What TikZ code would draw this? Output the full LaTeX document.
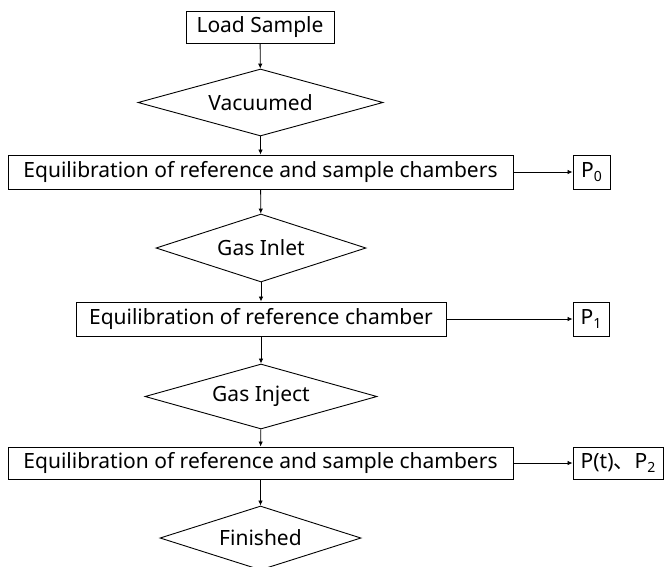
\documentclass[tikz,border=0pt]{standalone}
\usepackage{fontspec}
\setmainfont{Noto Sans}
\newfontfamily\cjk{Noto Sans CJK SC}
\usetikzlibrary{shapes.geometric,arrows.meta}
\newcommand{\subs}[1]{\raisebox{-0.3ex}{\fontsize{14}{14}\selectfont #1}}
\begin{document}
\begin{tikzpicture}[x=1pt,y=-1pt,
  every node/.style={font=\fontsize{21}{24}\selectfont, inner sep=0pt, line width=0.9pt},
  box/.style={draw, rectangle},
  dec/.style={draw, diamond, aspect=3.5},
  arr/.style={-{Latex[length=5pt,width=4.5pt]}, line width=0.8pt}]
\useasboundingbox (0,0) rectangle (664,566);
\node[box, minimum width=148, minimum height=32] (load) at (260,27) {Load Sample};
\node[dec, minimum width=245, minimum height=67] (vac) at (260.5,102.5) {Vacuumed};
\node[box, minimum width=505, minimum height=34] (eq1) at (260.5,172) {Equilibration of reference and sample chambers};
\node[box, minimum width=37, minimum height=34] (p0) at (591.5,172) {P\subs{0}};
\node[dec, minimum width=210, minimum height=68] (inlet) at (261,248) {Gas Inlet};
\node[box, minimum width=370, minimum height=34] (eq2) at (261,319) {Equilibration of reference chamber};
\node[box, minimum width=36, minimum height=34] (p1) at (591,319) {P\subs{1}};
\node[dec, minimum width=232, minimum height=65] (inject) at (261,396.5) {Gas Inject};
\node[box, minimum width=505, minimum height=32] (eq3) at (260.5,463) {Equilibration of reference and sample chambers};
\node[box, minimum width=90, minimum height=32] (pt) at (618,463) {P(t){\cjk 、}P\subs{2}};
\node[dec, minimum width=201, minimum height=64] (fin) at (260.5,538) {Finished};
\draw[arr] (load) -- (vac);
\draw[arr] (vac) -- (eq1);
\draw[arr] (eq1) -- (inlet);
\draw[arr] (inlet) -- (eq2);
\draw[arr] (eq2) -- (inject);
\draw[arr] (inject) -- (eq3);
\draw[arr] (eq3) -- (fin);
\draw[arr] (eq1) -- (p0);
\draw[arr] (eq2) -- (p1);
\draw[arr] (eq3) -- (pt);
\end{tikzpicture}
\end{document}
